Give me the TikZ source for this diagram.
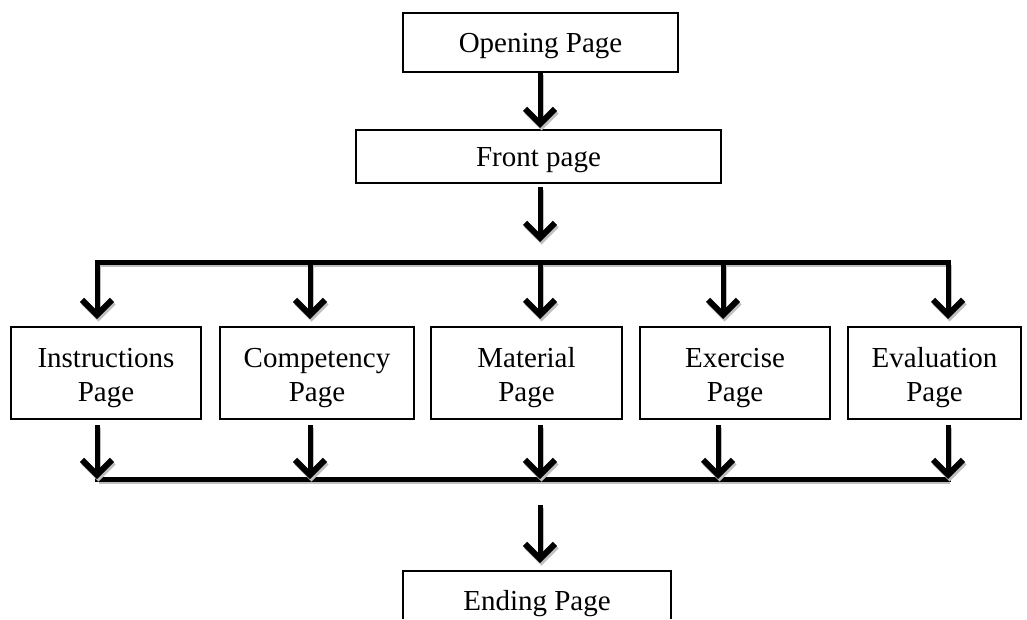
\documentclass[tikz,border=0pt]{standalone}
\usepackage{fontspec}
\setmainfont{Liberation Serif}
\usetikzlibrary{arrows.meta}
\begin{document}
\begin{tikzpicture}[x=1pt,y=-1pt,
  box/.style={draw, line width=1.5pt, inner sep=0pt, minimum height=92pt, minimum width=190pt},
  txt/.style={inner sep=0pt, align=center, font=\fontsize{29}{34}\selectfont},
  shadowed/.style={preaction={draw=gray!50, line width=4.5pt, transform canvas={shift={(1.5pt,-2.5pt)}}}},
  tip/.style={-{Straight Barb[length=15pt,width=30pt,line width=6pt]}},
  arr/.style={line width=5pt, tip, shadowed},
  bus/.style={line width=5pt, line cap=rect, shadowed}]
\useasboundingbox (0,0) rectangle (1027,619);
% top boxes
\node[box, minimum width=275pt, minimum height=59pt] (open) at (540.5,42.5) {};
\node[txt] (opent) at ([yshift=-4pt]open.center) {Opening Page};
\node[box, minimum width=365pt, minimum height=53pt] (front) at (538.5,156.5) {};
\node[txt] (frontt) at ([yshift=-4pt]front.center) {Front page};
% middle boxes
\node[box, minimum width=190pt] (ins) at (106,373) {};
\node[box, minimum width=194pt] (com) at (317,373) {};
\node[box, minimum width=191pt] (mat) at (526.5,373) {};
\node[box, minimum width=190pt] (exe) at (735,373) {};
\node[box, minimum width=173pt] (eva) at (934.5,373) {};
\node[txt] (inst) at ([yshift=-5pt]ins.center) {Instructions\\Page};
\node[txt] (comt) at ([yshift=-5pt]com.center) {Competency\\Page};
\node[txt] (matt) at ([yshift=-5pt]mat.center) {Material\\Page};
\node[txt] (exet) at ([yshift=-5pt]exe.center) {Exercise\\Page};
\node[txt] (evat) at ([yshift=-5pt]eva.center) {Evaluation\\Page};
% ending (cut off at bottom)
\draw[line width=1.5pt] (403,619) |- (671,571) -- (671,619);
\node[txt, anchor=base] (end) at (537,610) {Ending Page};
% coordinates
\coordinate (o1) at (540,72);
\coordinate (o2) at (540,128);
\coordinate (f1) at (540,187);
\coordinate (f2) at (540,242);
\coordinate (tl) at (97,262);
\coordinate (tr) at (948,262);
\coordinate (bl) at (97,479);
\coordinate (br) at (948,479);
\coordinate (e1) at (540,505);
\coordinate (e2) at (540,563);
% arrows
\draw[arr] (o1) -- (o2);
\draw[arr] (f1) -- (f2);
\draw[bus] (tl) -- (tr);
\draw[bus] (bl) -- (br);
\foreach \x in {97, 310, 540, 723, 948}{
  \draw[arr] (\x,262) -- (\x,319);
}
\foreach \x in {97, 310, 540, 718, 948}{
  \draw[arr] (\x,425) -- (\x,479);
}
\draw[arr] (e1) -- (e2);
\end{tikzpicture}
\end{document}
